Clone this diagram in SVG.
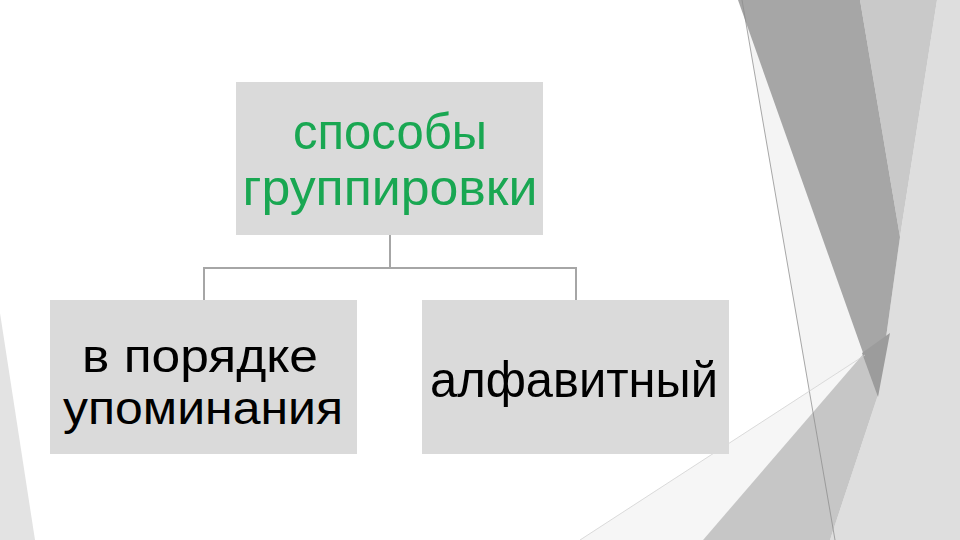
<svg xmlns="http://www.w3.org/2000/svg" width="960" height="540" viewBox="0 0 960 540">
<style>
.box{fill:#dadada}
.t{font-family:"Liberation Sans","DejaVu Sans",sans-serif;font-size:50px;text-anchor:middle}
.s{font-size:46px}
.g{fill:#19a752}
.k{fill:#000000}
.conn{stroke:#a6a6a6;stroke-width:2;fill:none}
</style>
<rect width="960" height="540" fill="#ffffff"/>
<g id="background">
<polygon points="0,313 35,540 0,540" fill="#e3e3e3"/>
<polygon points="742,0 865,355 809,391" fill="#f4f4f4"/>
<polygon points="580,540 865,355 703,540" fill="#f6f6f6"/>
<polygon points="937,0 960,0 960,540 830,540 878,395 900,237" fill="#dedede"/>
<polygon points="860,0 937,0 900,237" fill="#c9c9c9"/>
<polygon points="703,540 865,352 878,395 830,540" fill="#c6c6c6"/>
<polygon points="738,0 860,0 900,237 878,395" fill="#a6a6a6"/>
<polygon points="862,353 890,333 878,397" fill="#9c9c9c"/>
<line x1="742" y1="0" x2="835" y2="540" stroke="#8c8c8c" stroke-width="0.75"/>
<line x1="580" y1="540" x2="865" y2="355" stroke="#cfcfcf" stroke-width="0.75"/>
</g>
<g id="connectors">
<path class="conn" d="M390,235 V268 M204,268 H576 M204,267 V300 M576,267 V300"/>
</g>
<g id="node-root">
<rect class="box" x="236" y="82" width="307" height="153"/>
<text class="t g" x="390" y="149" textLength="194" lengthAdjust="spacingAndGlyphs">способы</text>
<text class="t g" x="390" y="205" textLength="295" lengthAdjust="spacingAndGlyphs">группировки</text>
</g>
<g id="node-order">
<rect class="box" x="50" y="300" width="307" height="154"/>
<text class="t s k" x="200" y="372" textLength="236" lengthAdjust="spacingAndGlyphs">в порядке</text>
<text class="t s k" x="203" y="424" textLength="280" lengthAdjust="spacingAndGlyphs">упоминания</text>
</g>
<g id="node-alpha">
<rect class="box" x="422" y="300" width="307" height="154"/>
<text class="t k" x="574" y="397" textLength="288" lengthAdjust="spacingAndGlyphs">алфавитный</text>
</g>
</svg>
